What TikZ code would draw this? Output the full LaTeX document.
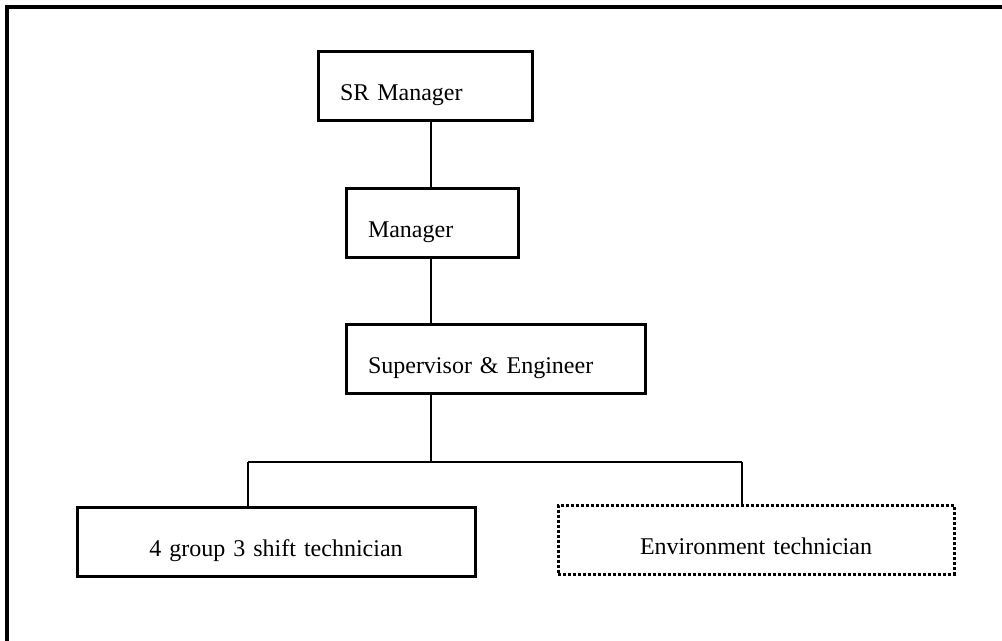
\documentclass[tikz,border=0pt]{standalone}
\usepackage{fontspec}
\setmainfont{Liberation Serif}
\begin{document}
\begin{tikzpicture}[
  x=0.5pt, y=-0.5pt,
  font=\fontsize{12}{14}\selectfont,
  orgbox/.style={draw, line width=1.5pt, rectangle, inner ysep=0pt, inner xsep=11pt,
    text height=24.5pt, text depth=10pt},
  leftbox/.style={orgbox, align=left},
  centerbox/.style={orgbox, align=center},
  dottedbox/.style={dash pattern=on 1.5pt off 1pt},
  link/.style={line width=1.2pt},
  frame/.style={line width=1.6pt}
]
\useasboundingbox (0,0) rectangle (1002,641);

% open frame along the top and left
\coordinate (fa) at (7,650);
\coordinate (fb) at (7,7);
\coordinate (fc) at (1010,7);
\draw[frame] (fa) -- (fb) -- (fc);

% chain of command
\node[leftbox, text width=85pt]   (sr)  at (425,86.5)  {SR Manager};
\node[leftbox, text width=64pt]   (mgr) at (432,223.5) {Manager};
\node[leftbox, text width=127.5pt] (sup) at (495.5,359.5) {Supervisor \& Engineer};
\node[centerbox, text width=177pt] (tech) at (276,542) {4 group 3 shift technician};
\node[centerbox, dottedbox, text width=176pt] (env) at (756,540) {Environment technician};

% branch points
\coordinate (trunk) at (431,462);
\coordinate (jl) at (248,462);
\coordinate (jr) at (742,462);

\draw[link] (sr.south -| trunk) -- (mgr.north -| trunk);
\draw[link] (mgr.south -| trunk) -- (sup.north -| trunk);
\draw[link] (sup.south -| trunk) -- (trunk);
\draw[link] (jl) -- (jr);
\draw[link] (jl) -- (jl |- tech.north);
\draw[link] (jr) -- (jr |- env.north);
\end{tikzpicture}
\end{document}
